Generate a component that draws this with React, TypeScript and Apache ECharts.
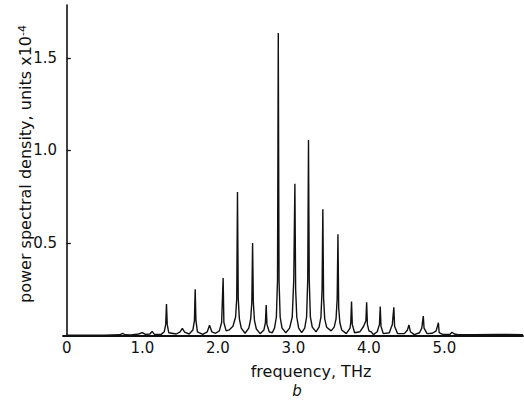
import React, { useEffect, useRef } from "react";
import * as echarts from "echarts";

// [frequency (THz), power spectral density (units x10^-4)]
const spectrum: [number, number][] = [
  [0.0, 0.002], [0.5, 0.002], [0.7, 0.004], [0.74, 0.012], [0.77, 0.004], [0.85, 0.003], [0.95, 0.008],
  [1.0, 0.016], [1.04, 0.006], [1.1, 0.008], [1.13, 0.022], [1.16, 0.006], [1.25, 0.006], [1.29, 0.02],
  [1.31, 0.06], [1.32, 0.17], [1.33, 0.06], [1.35, 0.015], [1.45, 0.008], [1.5, 0.02], [1.53, 0.038],
  [1.56, 0.018], [1.62, 0.008], [1.67, 0.03], [1.69, 0.08], [1.7, 0.25], [1.71, 0.08], [1.73, 0.02],
  [1.8, 0.006], [1.86, 0.02], [1.89, 0.055], [1.92, 0.02], [1.97, 0.012], [2.02, 0.025], [2.05, 0.07],
  [2.07, 0.31], [2.08, 0.07], [2.11, 0.025], [2.15, 0.03], [2.2, 0.05], [2.235, 0.1], [2.25, 0.2],
  [2.26, 0.775], [2.27, 0.2], [2.285, 0.09], [2.31, 0.04], [2.36, 0.012], [2.41, 0.04], [2.435, 0.09],
  [2.45, 0.18], [2.46, 0.5], [2.47, 0.18], [2.485, 0.08], [2.51, 0.035], [2.56, 0.01], [2.61, 0.03],
  [2.63, 0.07], [2.64, 0.165], [2.65, 0.06], [2.68, 0.02], [2.72, 0.015], [2.75, 0.04], [2.775, 0.1],
  [2.79, 0.3], [2.8, 1.635], [2.81, 0.3], [2.825, 0.1], [2.85, 0.04], [2.9, 0.015], [2.95, 0.04],
  [2.985, 0.1], [3.005, 0.3], [3.02, 0.82], [3.03, 0.25], [3.045, 0.1], [3.07, 0.04], [3.11, 0.015],
  [3.15, 0.04], [3.175, 0.1], [3.19, 0.3], [3.2, 1.057], [3.21, 0.3], [3.225, 0.1], [3.25, 0.045],
  [3.3, 0.02], [3.34, 0.045], [3.365, 0.1], [3.38, 0.25], [3.39, 0.682], [3.4, 0.2], [3.415, 0.09],
  [3.44, 0.045], [3.5, 0.025], [3.54, 0.045], [3.565, 0.09], [3.58, 0.2], [3.59, 0.547], [3.6, 0.15],
  [3.615, 0.07], [3.64, 0.03], [3.7, 0.01], [3.75, 0.04], [3.76, 0.07], [3.77, 0.183], [3.78, 0.06],
  [3.81, 0.015], [3.88, 0.02], [3.93, 0.05], [3.96, 0.08], [3.97, 0.18], [3.98, 0.06], [4.0, 0.025],
  [4.03, 0.02], [4.06, 0.005], [4.11, 0.02], [4.14, 0.06], [4.15, 0.156], [4.16, 0.05], [4.19, 0.01],
  [4.27, 0.015], [4.31, 0.06], [4.33, 0.152], [4.34, 0.05], [4.38, 0.01], [4.47, 0.01], [4.51, 0.03],
  [4.53, 0.057], [4.55, 0.02], [4.6, 0.005], [4.67, 0.015], [4.7, 0.04], [4.72, 0.105], [4.73, 0.04],
  [4.77, 0.01], [4.84, 0.012], [4.89, 0.025], [4.92, 0.069], [4.93, 0.015], [4.98, 0.005], [5.07, 0.005],
  [5.1, 0.018], [5.13, 0.008], [5.18, 0.004], [5.4, 0.004], [5.7, 0.006], [6.04, 0.004],
];
const xTickValues: number[] = [0, 1, 2, 3, 4, 5];
const yTickValues: number[] = [0.5, 1.0, 1.5];

const FONT = "DejaVu Sans";
const INK = "#111";

export default function App() {
  const ref = useRef<HTMLDivElement>(null);
  useEffect(() => {
    if (!ref.current) return;
    const chart = echarts.init(ref.current, undefined, { renderer: "svg" });
    chart.setOption({
      animation: false,
      backgroundColor: "#fff",
      grid: { left: 63, right: 1, top: 5, bottom: 67.5 },
      xAxis: {
        type: "value",
        min: -0.05,
        max: 6.04,
        splitLine: { show: false },
        axisLine: { show: true, lineStyle: { color: INK, width: 1.8 } },
        axisTick: { show: false },
        axisLabel: {
          customValues: xTickValues,
          formatter: (v: number) => (v === 0 ? "0" : v.toFixed(1)),
          fontSize: 15,
          fontFamily: FONT,
          color: INK,
          margin: 5,
        },
      },
      yAxis: {
        type: "value",
        min: 0,
        max: 1.786,
        splitLine: { show: false },
        axisLine: { show: true, lineStyle: { color: INK, width: 1.6 } },
        axisTick: {
          show: true,
          inside: true,
          length: 4,
          customValues: yTickValues,
          lineStyle: { color: INK, width: 1.3 },
        },
        axisLabel: {
          customValues: yTickValues,
          formatter: (v: number) => v.toFixed(1),
          fontSize: 15,
          fontFamily: FONT,
          color: INK,
          margin: 6,
        },
      },
      graphic: [
        {
          type: "text",
          x: 25,
          y: 164,
          rotation: Math.PI / 2,
          style: {
            text: "power spectral density, units x10{sup|-4}",
            font: `16px '${FONT}'`,
            fill: INK,
            align: "center",
            verticalAlign: "middle",
            rich: {
              sup: { fontSize: 11, fontFamily: FONT, fill: INK, verticalAlign: "top", padding: [0, 0, 6, 0] },
            },
          },
        },
        {
          type: "text",
          x: 311,
          y: 371,
          style: {
            text: "frequency, THz",
            font: `16px '${FONT}'`,
            fill: INK,
            align: "center",
            verticalAlign: "middle",
          },
        },
        {
          type: "text",
          x: 297,
          y: 391,
          style: {
            text: "b",
            font: `italic 15px '${FONT}'`,
            fill: INK,
            align: "center",
            verticalAlign: "middle",
          },
        },
      ],
      series: [
        {
          type: "line",
          data: spectrum,
          showSymbol: false,
          lineStyle: { color: INK, width: 1.4 },
          silent: true,
        },
      ],
    });
    return () => chart.dispose();
  }, []);
  return (
    <div
      ref={ref}
      style={{ position: "fixed", left: 0, top: 0, width: 524, height: 403 }}
    />
  );
}
